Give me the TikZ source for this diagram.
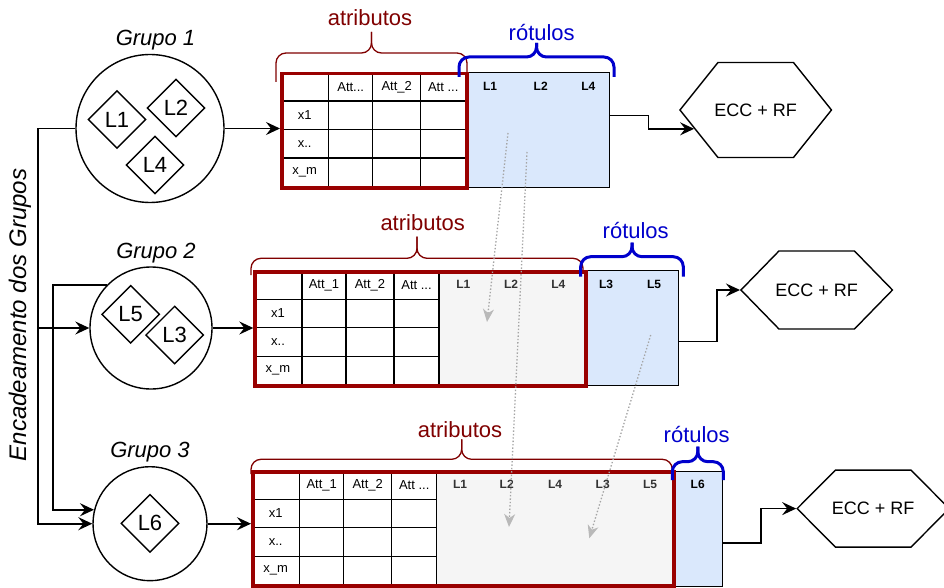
\documentclass[tikz,border=0pt]{standalone}
\usepackage{fontspec}
\setmainfont{Liberation Sans}
\usetikzlibrary{shapes.geometric, shapes.symbols, arrows.meta}
\definecolor{myred}{RGB}{153,0,0}
\definecolor{mybrown}{RGB}{128,0,0}
\definecolor{myblue}{RGB}{0,0,204}
\definecolor{hdrblue}{RGB}{218,232,252}
\definecolor{hdrgray}{RGB}{245,245,245}
\definecolor{mydark}{RGB}{51,51,51}
\definecolor{mygray}{RGB}{165,165,165}
\definecolor{mylgray}{RGB}{185,185,185}
\newcommand{\fs}[1]{\fontsize{#1}{#1}\selectfont}
% chave: estilo, x esq, x dir, y pontas, y meio, y bico
\newcommand{\chave}[6]{%
  \draw[#1, rounded corners=10pt] (#2,#4) -- (#2,#5) -- ({(#2+#3)/2},#5) -- ({(#2+#3)/2},#6);
  \draw[#1, rounded corners=10pt] (#3,#4) -- (#3,#5) -- ({(#2+#3)/2},#5) -- ({(#2+#3)/2},#6);
}
% celulas da tabela: x, y, primeiro atributo
\newcommand{\celulas}[3]{%
  \node[cel, minimum width=48pt] at (#1,#2) {};
  \node[cel, minimum width=44pt] at (#1+48,#2) {#3};
  \node[cel, minimum width=48pt] at (#1+92,#2) {Att\_2};
  \node[cel, minimum width=45pt] at (#1+140,#2) {Att ...};
  \node[cel, minimum width=48pt] at (#1,#2+28.5) {x1};
  \node[cel, minimum width=48pt] at (#1,#2+57) {x..};
  \node[cel, minimum width=48pt] at (#1,#2+85.5) {x\_m};
  \foreach \ry in {28.5,57,85.5}
    \foreach \cx/\cw in {48/44,92/48,140/45}
      \node[cel, minimum width=\cw pt] at (#1+\cx,#2+\ry) {};
}
\tikzset{
  grupo/.style={circle, draw, line width=1.4pt, fill=white, inner sep=0pt},
  rotulo/.style={diamond, draw, line width=1.4pt, fill=white, minimum width=58pt,
    minimum height=58pt, inner sep=0pt, font=\fs{22}},
  grlabel/.style={font=\fs{22}\itshape},
  encad/.style={font=\fs{24}\itshape, rotate=90},
  cel/.style={rectangle, draw, fill=white, line width=1.4pt, minimum height=28.5pt,
    inner sep=0pt, anchor=north west, font=\fs{13}},
  cinza/.style={rectangle, fill=hdrgray, inner sep=0pt, anchor=north west, minimum height=114pt},
  azul/.style={rectangle, draw, fill=hdrblue, line width=0.9pt, inner sep=0pt,
    anchor=north west, minimum height=115pt},
  caixa/.style={rectangle, draw=myred, line width=3.5pt, inner sep=0pt,
    anchor=north west, minimum height=114pt},
  lcinza/.style={font=\fs{12}\bfseries, text=mydark},
  lazul/.style={font=\fs{12}\bfseries, text=black},
  hexa/.style={signal, signal to=west and east, draw, line width=1.4pt, fill=white,
    inner xsep=-3.5pt, inner ysep=0pt, font=\fs{18}},
  chaver/.style={draw=mybrown, line width=1.3pt},
  chaveb/.style={draw=myblue, line width=3pt},
  txtr/.style={font=\fs{22}, text=mybrown},
  txtb/.style={font=\fs{22}, text=myblue},
  seta/.style={-{Stealth[length=14pt, width=13pt, inset=5pt]}, line width=1.6pt},
  pontil/.style={-{Stealth[length=13pt, width=11pt, inset=4pt, color=mylgray]},
    draw=mygray, line width=1.3pt, dash pattern=on 1.4pt off 2pt}
}
\begin{document}
\begin{tikzpicture}[x=1pt, y=-1pt]
  \fill[white] (0,0) rectangle (944,588);
  \useasboundingbox (0,0) rectangle (944,588);

  % Texto lateral
  \node[encad] (enc) at (20,315) {Encadeamento dos Grupos};

  % Grupos de rotulos
  \node[grupo, minimum size=148pt] (g1) at (150,128.5) {};
  \node[rotulo] (l1) at (117,119.5) {L1};
  \node[rotulo] (l2) at (176,108) {L2};
  \node[rotulo] (l4) at (155,165) {L4};
  \node[grlabel] (tg1) at (155.5,40) {Grupo 1};

  \node[grupo, minimum size=122pt] (g2) at (151,328) {};
  \node[rotulo] (l5) at (130.7,314.3) {L5};
  \node[rotulo] (l3) at (174.7,335) {L3};
  \node[grlabel] (tg2) at (156,253) {Grupo 2};

  \node[grupo, minimum size=114pt] (g3) at (150,523.7) {};
  \node[rotulo] (l6) at (150,523.3) {L6};
  \node[grlabel] (tg3) at (150,451.7) {Grupo 3};

  % Chaves de atributos
  \chave{chaver}{276}{467}{82}{53}{32}
  \node[txtr] (ta1) at (370,18) {atributos};
  \chave{chaver}{251}{583}{275}{258.3}{236.7}
  \node[txtr] (ta2) at (422.7,222.7) {atributos};
  \chave{chaver}{251}{672.3}{474}{459.3}{439.3}
  \node[txtr] (ta3) at (460,429.3) {atributos};

  % Tabela 1
  \celulas{280}{72}{Att...}
  \node[azul, minimum width=144pt] (rot1) at (465,72) {};
  \node[caixa, minimum width=185pt] (atr1) at (280,72) {};
  \foreach \lx/\lt in {490/L1, 540.7/L2, 588.3/L4}
    \node[lazul] (a1\lt) at (\lx,86.5) {\lt};

  % Tabela 2
  \node[cinza, minimum width=146pt] (cz2) at (438.3,270) {};
  \celulas{253.3}{270}{Att\_1}
  \node[azul, minimum width=94pt] (rot2) at (584.3,269.5) {};
  \node[caixa, minimum width=331pt] (atr2) at (253.3,270) {};
  \foreach \lx/\lt in {463.3/L1, 511/L2, 558.3/L4}
    \node[lcinza] (c2\lt) at (\lx,284.5) {\lt};
  \foreach \lx/\lt in {606/L3, 654/L5}
    \node[lazul] (a2\lt) at (\lx,284.5) {\lt};

  % Tabela 3
  \node[cinza, minimum width=236pt] (cz3) at (436,470) {};
  \celulas{251}{470}{Att\_1}
  \node[azul, minimum width=50pt] (rot3) at (672,470.5) {};
  \node[caixa, minimum width=421pt] (atr3) at (251,470) {};
  \foreach \lx/\lt in {460/L1, 506.7/L2, 555/L4, 602.7/L3, 650/L5}
    \node[lcinza] (c3\lt) at (\lx,484.5) {\lt};
  \node[lazul] (a3L6) at (697.7,484.5) {L6};

  % Chaves de rotulos
  \chave{chaveb}{459}{614}{77}{57}{43}
  \node[txtb] (tr1) at (541.7,33) {rótulos};
  \chave{chaveb}{580.7}{683.3}{276.7}{256.7}{242.7}
  \node[txtb] (tr2) at (635.7,230.7) {rótulos};
  \chave{chaveb}{672.3}{723.3}{480}{461.7}{446.7}
  \node[txtb] (tr3) at (696.7,435) {rótulos};

  % Classificadores
  \node[hexa, minimum height=95pt, signal pointer angle=102.7] (ecc1) at (755.7,110) {ECC + RF};
  \node[hexa, minimum height=78pt, signal pointer angle=91.5] (ecc2) at (816.7,290) {ECC + RF};
  \node[hexa, minimum height=77pt, signal pointer angle=90.3] (ecc3) at (873.2,508.6) {ECC + RF};

  % Encadeamento
  \coordinate (esp1) at (38,0);
  \coordinate (esp2) at (52.7,0);
  \draw[seta] (g1.west) -- (g1.west -| esp1) |- (g2.west);
  \draw[seta] (g1.west) -- (g1.west -| esp1) |- (g3.west);
  \draw[seta] (g2.136) -- (g2.136 -| esp2) |- (g3.166);

  % Grupos para tabelas
  \draw[seta] (g1.east) -- (g1.east -| atr1.west);
  \draw[seta] (g2.east) -- (g2.east -| atr2.west);
  \draw[seta] (g3.east) -- (g3.east -| atr3.west);

  % Tabelas para classificadores
  \draw[seta] ([yshift=14.5pt]rot1.east) -- ++(38.5,0) |- (ecc1.197);
  \draw[seta] ([yshift=-14pt]rot2.east) -- ++(38,0) |- (ecc2.west);
  \draw[seta] ([yshift=-14.7pt]rot3.east) -- ++(38,0) |- (ecc3.west);

  % Rotulos passados adiante
  \coordinate (pa1) at (508,133);
  \coordinate (pa2) at (487,322);
  \coordinate (pb1) at (527,152);
  \coordinate (pb2) at (509,527);
  \coordinate (pc1) at (650.7,335);
  \coordinate (pc2) at (589.3,538.3);
  \draw[pontil] (pa1) -- (pa2);
  \draw[pontil] (pb1) -- (pb2);
  \draw[pontil] (pc1) -- (pc2);
\end{tikzpicture}
\end{document}
